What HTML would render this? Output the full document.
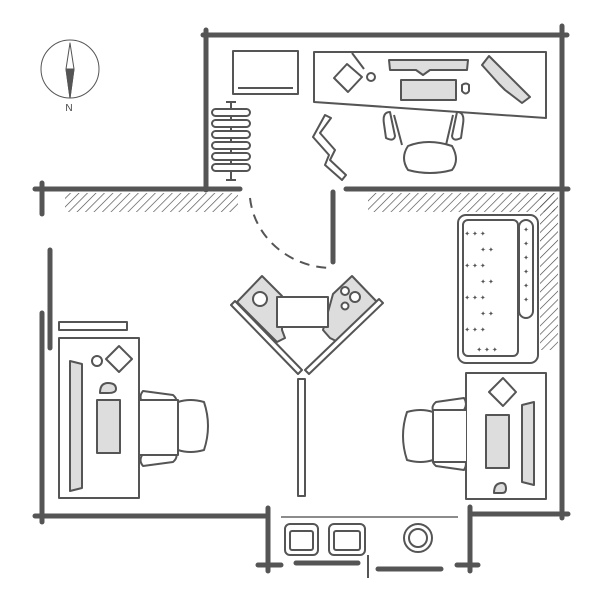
<!DOCTYPE html>
<html><head><style>body{margin:0;background:#fff}svg{display:block}</style></head><body>
<svg width="600" height="600" viewBox="0 0 600 600" xmlns="http://www.w3.org/2000/svg" font-family="Liberation Sans, sans-serif">
<defs>
<pattern id="h" width="6" height="6" patternUnits="userSpaceOnUse" patternTransform="rotate(45)">
<line x1="0" y1="0" x2="0" y2="6" stroke="#444" stroke-width="1.3"/></pattern>
</defs>
<rect x="65" y="193" width="173" height="19" fill="url(#h)"/>
<rect x="368" y="193" width="187" height="19" fill="url(#h)"/>
<rect x="540" y="193" width="18" height="157" fill="url(#h)"/>
<g stroke="#555" stroke-width="5" stroke-linecap="round" fill="none">
<line x1="203" y1="35" x2="567" y2="35"/>
<line x1="206" y1="30" x2="206" y2="190"/>
<line x1="562" y1="26" x2="562" y2="518"/>
<line x1="35" y1="189" x2="240" y2="189"/>
<line x1="346" y1="189" x2="568" y2="189"/>
<line x1="42" y1="183" x2="42" y2="214"/>
<line x1="333" y1="192" x2="333" y2="262"/>
<line x1="50" y1="250" x2="50" y2="348"/>
<line x1="42" y1="313" x2="42" y2="522"/>
<line x1="35" y1="516" x2="268" y2="516"/>
<line x1="268" y1="508" x2="268" y2="571"/>
<line x1="258" y1="565" x2="281" y2="565"/>
<line x1="470" y1="507" x2="470" y2="571"/>
<line x1="470" y1="514" x2="568" y2="514"/>
<line x1="457" y1="565" x2="478" y2="565"/>
<line x1="296" y1="563" x2="358" y2="563"/>
<line x1="378" y1="569" x2="441" y2="569"/>
</g>
<line x1="368" y1="555" x2="368" y2="578" stroke="#555" stroke-width="2"/>
<line x1="281" y1="517" x2="458" y2="517" stroke="#666" stroke-width="1.5"/>
<path d="M250 198 A83 78 0 0 0 333 268" fill="none" stroke="#555" stroke-width="2" stroke-dasharray="10 7"/>
<g stroke="#555" stroke-width="2" fill="#fff" stroke-linejoin="round">
<circle cx="70" cy="69" r="29" stroke-width="1"/>
<polygon points="70,43 74,69 70,98 66,69" stroke-width="1"/>
<polygon points="66,69 74,69 70,98" fill="#555" stroke-width="1"/>
<rect x="233" y="51" width="65" height="43"/>
<line x1="238" y1="88" x2="293" y2="88"/>
<polygon points="314,52 546,52 546,118 314,102"/>
<polygon points="389,60 468,60 467,70 430,70 423,75 416,70 390,70" fill="#ddd"/>
<rect x="401" y="80" width="55" height="20" fill="#ddd"/>
<path d="M462 85 q4 -3 7 0 v6 q-3 5 -7 0z"/>
<polygon points="489,56 530,97 522,103 505,90 499,84 482,65" fill="#ddd"/>
<polygon points="334,78 347,64 362,77 348,92"/>
<path d="M352 53 l12 16"/><circle cx="371" cy="77" r="4"/>
<path d="M390 112 q-8 0 -6 12 l2 14 q8 4 9 -2 z"/>
<path d="M457 112 q8 0 6 12 l-2 14 q-8 4 -9 -2 z"/>
<path d="M394 115 L402 145 M453 115 L446 145"/>
<path d="M408 146 q20 -8 44 0 q8 14 0 24 q-22 6 -44 0 q-8 -12 0 -24z"/>
<polygon points="325,115 331,118 320,133 335,150 330,160 346,175 342,180 325,165 329,155 313,137"/>
<line x1="231" y1="102" x2="231" y2="180"/>
<line x1="226" y1="102" x2="236" y2="102"/><line x1="226" y1="180" x2="236" y2="180"/>
<rect x="212" y="109" width="38" height="7" rx="3.5"/>
<rect x="212" y="120" width="38" height="7" rx="3.5"/>
<rect x="212" y="131" width="38" height="7" rx="3.5"/>
<rect x="212" y="142" width="38" height="7" rx="3.5"/>
<rect x="212" y="153" width="38" height="7" rx="3.5"/>
<rect x="212" y="164" width="38" height="7" rx="3.5"/>
<polygon points="237,302 262,276 282,296 282,330 285,338 277,342" fill="#ddd"/>
<polygon points="377,302 352,276 333,294 323,330 330,338 336,341" fill="#ddd"/>
<circle cx="260" cy="299" r="7"/>
<circle cx="345" cy="291" r="4"/><circle cx="355" cy="297" r="5"/><circle cx="345" cy="306" r="3.5"/>
<rect x="277" y="297" width="51" height="30"/>
<polygon points="231,305 235,301 302,370 298,374"/>
<polygon points="383,303 379,299 305,370 309,374"/>
<rect x="298" y="379" width="7" height="117"/>
<rect x="59" y="322" width="68" height="8"/>
<rect x="59" y="338" width="80" height="160"/>
<polygon points="70,361 82,364 82,488 70,491" fill="#ddd"/>
<rect x="97" y="400" width="23" height="53" fill="#ddd"/>
<path d="M100 393 q0 -10 8 -10 q8 0 8 6 q0 4 -8 4z" fill="#ddd"/>
<circle cx="97" cy="361" r="5"/>
<polygon points="119,346 132,359 119,372 106,359"/>
<path d="M143 391 q-5 6 0 12 l30 4 q7 -6 0 -12z"/><path d="M143 466 q-5 -6 0 -12 l30 -4 q7 6 0 12z"/>
<path d="M140 400 h38 v55 h-38"/>
<path d="M178 402 q12 -4 26 0 q8 24 0 48 q-14 4 -26 0z"/>
<rect x="458" y="215" width="80" height="148" rx="8"/>
<rect x="463" y="220" width="55" height="136" rx="5"/>
<rect x="519" y="220" width="14" height="98" rx="7"/>
<rect x="466" y="373" width="80" height="126"/>
<polygon points="503,378 516,392 503,406 489,392"/>
<rect x="486" y="415" width="23" height="53" fill="#ddd"/>
<polygon points="522,405 534,402 534,485 522,482" fill="#ddd"/>
<path d="M494 493 q0 -10 8 -10 q4 0 4 6 q0 4 -4 4z" fill="#ddd"/>
<path d="M464 398 q4 6 0 12 l-28 4 q-7 -6 0 -12z"/><path d="M464 470 q4 -6 0 -12 l-28 -4 q-7 6 0 12z"/>
<path d="M466 410 h-33 v52 h33"/>
<path d="M433 412 q-12 -4 -26 0 q-8 24 0 48 q14 4 26 0z"/>
<rect x="285" y="524" width="33" height="31" rx="5"/><rect x="290" y="531" width="23" height="19" rx="2"/>
<rect x="329" y="524" width="36" height="31" rx="5"/><rect x="334" y="531" width="26" height="19" rx="2"/>
<circle cx="418" cy="538" r="14"/><circle cx="418" cy="538" r="9"/>
</g>
<g fill="#555" font-size="7" text-anchor="middle">
<text x="475" y="236">✦ ✦ ✦</text><text x="487" y="252">✦ ✦</text><text x="475" y="268">✦ ✦ ✦</text>
<text x="487" y="284">✦ ✦</text><text x="475" y="300">✦ ✦ ✦</text><text x="487" y="316">✦ ✦</text>
<text x="475" y="332">✦ ✦ ✦</text><text x="487" y="352">✦ ✦ ✦</text>
<text x="526" y="232">✦</text><text x="526" y="246">✦</text><text x="526" y="260">✦</text><text x="526" y="274">✦</text><text x="526" y="288">✦</text><text x="526" y="302">✦</text>
</g>
<text x="69" y="111" font-size="10" fill="#444" text-anchor="middle">N</text>
</svg>
</body></html>
